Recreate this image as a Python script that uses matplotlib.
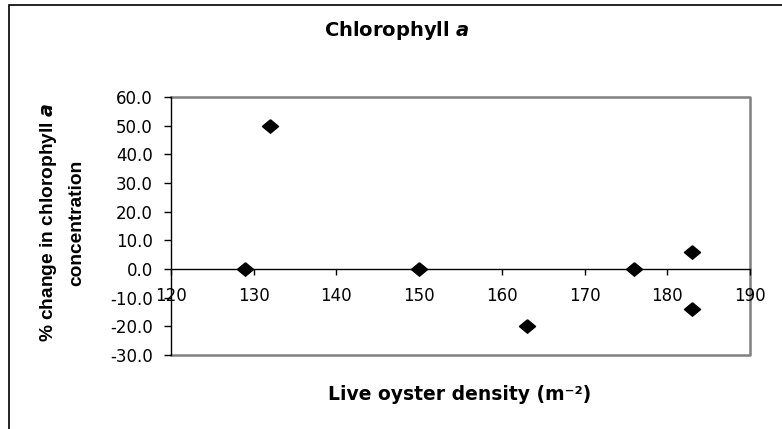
import matplotlib
matplotlib.use("Agg")
import matplotlib.pyplot as plt
from matplotlib.patches import Rectangle

# data
density = [129, 132, 150, 163, 176, 183, 183]
pct_change = [0.0, 50.0, 0.0, -20.0, 0.0, 6.0, -14.0]

x_ticks = [120, 130, 140, 150, 160, 170, 180, 190]
y_ticks = [-30, -20, -10, 0, 10, 20, 30, 40, 50, 60]

plt.rcParams["font.family"] = ["DejaVu Sans"]
plt.rcParams["mathtext.fontset"] = "custom"
plt.rcParams["mathtext.rm"] = "DejaVu Sans"
plt.rcParams["mathtext.bf"] = "DejaVu Sans:bold"
plt.rcParams["mathtext.it"] = "DejaVu Sans:italic"
plt.rcParams["mathtext.bfit"] = "DejaVu Sans:bold:italic"

fig = plt.figure(figsize=(7.82, 4.29), dpi=100)
ax = fig.add_axes([171 / 782, 1 - 355 / 429, (750 - 171) / 782, (355 - 97) / 429])

# outer chart border (only left/top edges fall inside the image)
fig.patches.append(Rectangle((9 / 782, -0.05), 1.2, 1 - 4.5 / 429 + 0.05,
                             transform=fig.transFigure, fill=False,
                             edgecolor="black", linewidth=1.2))

# slightly wide diamond like the Excel marker
diamond = [(0, 1), (1.2, 0), (0, -1), (-1.2, 0), (0, 1)]
ax.scatter(density, pct_change, marker=diamond, s=135, color="black",
           zorder=3, clip_on=False)

ax.set_xlim(120, 190)
ax.set_ylim(-30, 60)
ax.set_xticks(x_ticks)
ax.set_yticks(y_ticks)
ax.set_yticklabels([f"{v:.1f}" for v in y_ticks])

# x axis crosses at y = 0, rest of the plot-area frame in grey
ax.spines["bottom"].set_position(("data", 0))
ax.spines["bottom"].set_color("black")
ax.spines["left"].set_color("black")
for s in ["bottom", "left"]:
    ax.spines[s].set_linewidth(1.0)
ax.plot([120, 190, 190, 120], [60, 60, -30, -30], color="#808080", lw=1.8,
        clip_on=False, zorder=1)
ax.spines["top"].set_visible(False)
ax.spines["right"].set_visible(False)

ax.tick_params(axis="x", direction="out", length=4, width=1, labelsize=12,
               pad=9, colors="black")
ax.tick_params(axis="y", direction="out", length=5, width=1, labelsize=12,
               pad=8)

fig.text(397 / 782, 1 - 31 / 429, r"Chlorophyll $\mathbfit{a}$",
         ha="center", va="center", fontsize=14, fontweight="bold")
fig.text(460 / 782, 1 - 394 / 429, "Live oyster density (m\u207b\u00b2)",
         ha="center", va="center", fontsize=13.5, fontweight="bold")
fig.text(49 / 782, 1 - 223 / 429, r"% change in chlorophyll $\mathbfit{a}$",
         ha="center", va="center", rotation=90, fontsize=13.8,
         fontweight="bold", family="Liberation Sans")
fig.text(77 / 782, 1 - 223 / 429, "concentration",
         ha="center", va="center", rotation=90, fontsize=13.8,
         fontweight="bold", family="Liberation Sans")

fig.savefig("out.png", dpi=100)
